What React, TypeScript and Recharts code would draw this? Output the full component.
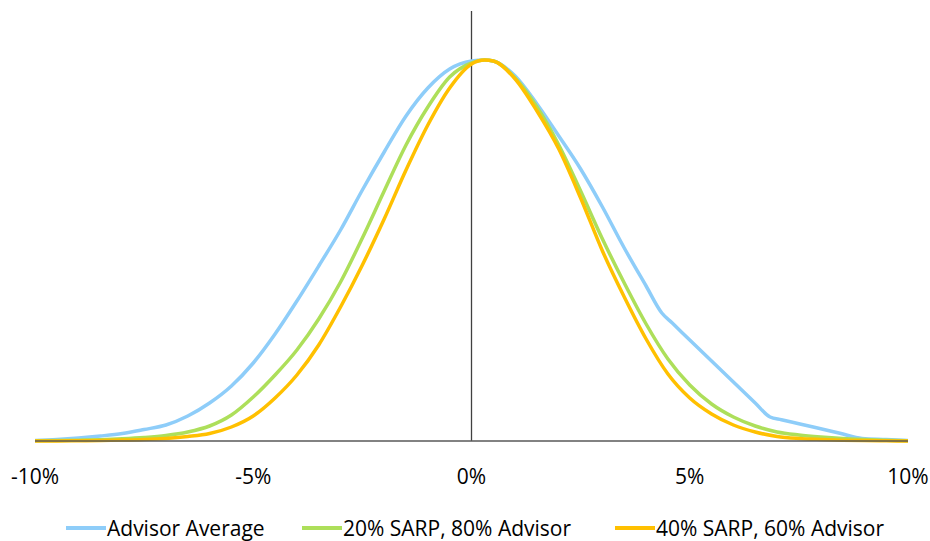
import React from "react";
import { LineChart, Line, XAxis, YAxis, ReferenceLine } from "recharts";

const xTicks = [-10, -5, 0, 5, 10];

const advisorX = [-10, -9.5, -9, -8.5, -8, -7.5, -7, -6.5, -6, -5.5, -5, -4.5, -4, -3.5, -3, -2.5, -2, -1.5, -1, -0.5, 0, 0.3, 0.5, 1, 1.5, 2, 2.5, 3, 3.5, 4, 4.36, 4.6, 5, 5.5, 6, 6.5, 6.84, 7.1, 7.5, 8, 8.44, 8.95, 9.5, 10];
const advisorY = [0.5, 1.5, 3, 5, 7.5, 11.5, 16, 25, 38, 55, 78, 107, 140, 175, 211, 251, 289, 325, 353, 372, 380, 381, 380, 365, 337, 305, 272, 234, 193, 155, 128, 118, 101, 80, 59, 38, 24, 21.3, 17.3, 12.2, 7.7, 2.5, 1.5, 0.5];

const sarp20X = [-10, -9.5, -9, -8.5, -8, -7.5, -7, -6.5, -6, -5.5, -5, -4.5, -4, -3.5, -3, -2.5, -2, -1.5, -1, -0.5, 0, 0.3, 0.5, 1, 1.5, 2, 2.5, 3, 3.5, 4, 4.5, 5, 5.5, 6, 6.5, 7, 7.5, 8, 8.5, 9, 9.5, 10];
const sarp20Y = [0.2, 0.4, 0.8, 1.3, 2.2, 3.5, 5.5, 9, 15, 26, 44, 66, 91, 122, 159, 203, 250, 296, 334, 364, 378, 381, 380, 363, 334, 296, 250, 202, 158, 117, 82, 56, 37, 24, 15, 9, 6, 4, 2.5, 1.5, 0.8, 0.3];

const sarp40X = [-10, -9.5, -9, -8.5, -8, -7.5, -7, -6.5, -6, -5.5, -5, -4.5, -4, -3.5, -3, -2.5, -2, -1.5, -1, -0.5, 0, 0.3, 0.5, 1, 1.5, 2, 2.5, 3, 3.5, 4, 4.5, 5, 5.5, 6, 6.5, 7, 7.5, 8, 8.5, 9, 9.5, 10];
const sarp40Y = [0, 0.1, 0.3, 0.5, 0.9, 1.5, 2.6, 4.5, 7.5, 14, 25, 43, 66, 96, 134, 176, 222, 271, 316, 353, 377, 381, 380, 362, 330, 292, 243, 190, 144, 102, 67, 43, 27, 16, 9, 4.5, 2.5, 1.5, 0.8, 0.4, 0.2, 0];

const seriesNames = ["Advisor Average", "20% SARP, 80% Advisor", "40% SARP, 60% Advisor"];
const seriesColors = ["#8ECDF9", "#ADDF5A", "#FFC000"];

const toRows = (xs: number[], ys: number[]) => xs.map((x, i) => ({ x, y: ys[i] }));

const seriesData = [
  toRows(advisorX, advisorY),
  toRows(sarp20X, sarp20Y),
  toRows(sarp40X, sarp40Y),
];

const FONT = "'Open Sans', 'Noto Sans', sans-serif";

export default function App() {
  return (
    <div style={{ position: "absolute", left: 0, top: 0, width: 930, height: 541, background: "#fff" }}>
      <LineChart width={930} height={541} margin={{ top: 11, right: 22, bottom: 40, left: 35 }}>
        <XAxis
          type="number"
          dataKey="x"
          domain={[-10, 10]}
          ticks={xTicks}
          tickFormatter={(v: number) => `${v}%`}
          allowDataOverflow
          height={60}
          tickLine={false}
          tickSize={0}
          tickMargin={28}
          axisLine={{ stroke: "#595959", strokeWidth: 1.3 }}
          tick={{ fill: "#000", fontSize: 21, fontFamily: FONT }}
          interval={0}
        />
        <YAxis type="number" domain={[0, 430]} hide />
        <ReferenceLine x={0} stroke="#404040" strokeWidth={1.3} />
        {seriesData.map((d, i) => (
          <Line
            key={seriesNames[i]}
            data={d}
            dataKey="y"
            name={seriesNames[i]}
            type="monotone"
            stroke={seriesColors[i]}
            strokeWidth={3.5}
            dot={false}
            activeDot={false}
            isAnimationActive={false}
          />
        ))}
      </LineChart>
      {seriesNames.map((n, i) => (
        <div
          key={n}
          style={{
            position: "absolute",
            left: [66, 302, 615][i],
            top: 514,
            height: 28,
            display: "flex",
            alignItems: "center",
            fontFamily: FONT,
            fontSize: 21,
            color: "#000",
            whiteSpace: "nowrap",
          }}
        >
          <span style={{ display: "inline-block", width: 40, height: 3.5, background: seriesColors[i], marginRight: 1 }} />
          <span>{n}</span>
        </div>
      ))}
    </div>
  );
}
